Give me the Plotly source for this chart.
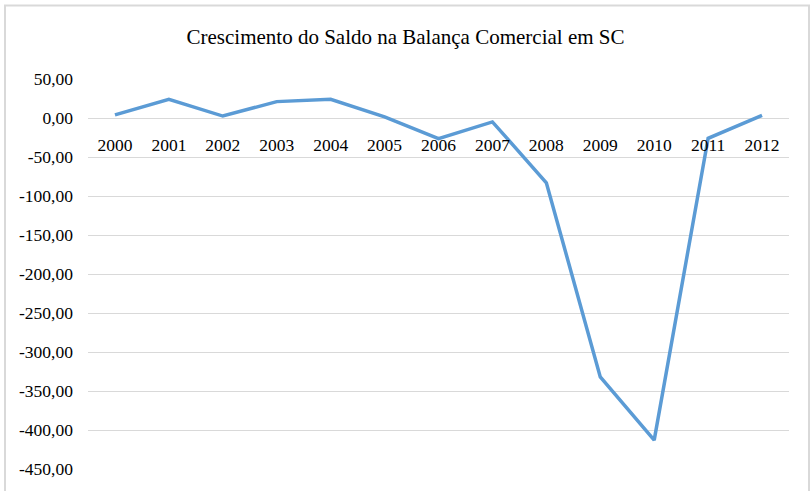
import plotly.graph_objects as go

years = ["2000", "2001", "2002", "2003", "2004", "2005", "2006",
         "2007", "2008", "2009", "2010", "2011", "2012"]
saldo = [4.0, 24.0, 2.5, 21.0, 24.0, 1.5, -26.5, -5.0, -83.0, -332.0, -413.0, -26.0, 3.5]

y_ticks = [50, 0, -50, -100, -150, -200, -250, -300, -350, -400, -450]
y_tick_text = [f"{v:.2f}".replace(".", ",") for v in y_ticks]

title_text = "Crescimento do Saldo na Balança Comercial em SC"

y_min, y_max = -450, 50

fig = go.Figure()
fig.add_trace(go.Scatter(
    x=years, y=saldo, mode="lines",
    line=dict(color="#5B9BD5", width=3.5),
    hoverinfo="x+y",
))

font_family = "Liberation Serif"

fig.update_layout(
    width=811, height=491,
    margin=dict(l=88, r=22, t=79, b=19),
    paper_bgcolor="white", plot_bgcolor="white",
    showlegend=False,
    font=dict(family=font_family, size=17.5, color="#000000"),
    title=dict(text=title_text, x=0.5, xanchor="center", xref="container",
               y=1 - 37 / 491, yanchor="middle", yref="container",
               font=dict(family=font_family, size=21, color="#000000")),
    xaxis=dict(
        type="category", range=[-0.5, len(years) - 0.5],
        anchor="free", position=(0 - y_min) / (y_max - y_min),
        showgrid=False, showline=False, zeroline=False, ticks="",
        ticklabelstandoff=14,
        tickfont=dict(family=font_family, size=17.5, color="#000000"),
    ),
    yaxis=dict(
        range=[y_min, y_max], tickvals=y_ticks, ticktext=y_tick_text,
        showgrid=True, gridcolor="#d9d9d9", gridwidth=1,
        zeroline=False, showline=False, ticks="",
        ticklabelstandoff=14,
        tickfont=dict(family=font_family, size=17.5, color="#000000"),
    ),
    shapes=[dict(
        type="rect", xref="paper", yref="paper",
        x0=(5 - 88) / 701, x1=(809 - 88) / 701,
        y0=(472 - 500) / 393, y1=(472 - 5) / 393,
        line=dict(color="#d9d9d9", width=2), fillcolor="rgba(0,0,0,0)",
        layer="below",
    )],
)

fig.write_html("out.html",
               config={"displayModeBar": False},
               post_script="document.body.style.margin='0';document.body.style.overflow='hidden';")
